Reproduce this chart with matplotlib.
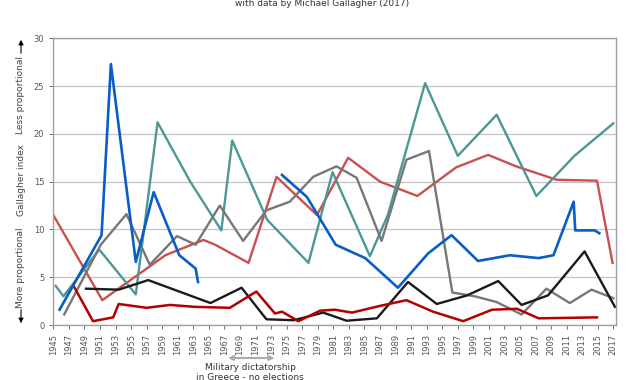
import matplotlib
matplotlib.use('Agg')
import matplotlib.pyplot as plt
import matplotlib.transforms as mtransforms
import numpy as np

# Gallagher index per election (x = position on the chart's year axis)
greece_a_x = [1945.8, 1951.2, 1952.4, 1955.6, 1957.9, 1961.2, 1963.3, 1963.6]
greece_a_y = [1.6, 9.4, 27.3, 6.6, 13.9, 7.3, 5.9, 4.5]
greece_b_x = [1974.4, 1977.6, 1981.3, 1985.1, 1989.3, 1993.2, 1996.2, 1999.6, 2003.7,
              2007.4, 2009.3, 2011.9, 2012.1, 2014.6, 2015.2]
greece_b_y = [15.7, 13.4, 8.4, 7.0, 3.9, 7.5, 9.4, 6.7, 7.3, 7.0, 7.3, 12.9, 9.9, 9.9, 9.6]

uk_x = [1945.0, 1951.3, 1959.4, 1964.3, 1965.8, 1970.1, 1973.7, 1978.9, 1982.9, 1987.0,
        1991.8, 1996.8, 2000.9, 2004.5, 2009.7, 2014.9, 2016.9]
uk_y = [11.5, 2.6, 7.3, 8.9, 8.4, 6.5, 15.5, 11.5, 17.5, 15.0, 13.5, 16.5, 17.8, 16.6,
        15.2, 15.1, 6.5]

france_x = [1945.3, 1946.3, 1950.9, 1955.6, 1958.4, 1962.6, 1966.6, 1968.0, 1972.5,
            1977.8, 1980.9, 1985.7, 1988.0, 1992.8, 1997.0, 2002.0, 2007.1, 2012.0, 2017.0]
france_y = [4.1, 3.0, 7.9, 3.2, 21.2, 15.0, 9.9, 19.3, 11.0, 6.5, 16.0, 7.2, 11.5, 25.3,
            17.7, 22.0, 13.5, 17.7, 21.1]

grey_x = [1946.4, 1951.1, 1954.4, 1957.4, 1960.9, 1963.3, 1966.4, 1969.4, 1972.4,
          1975.4, 1978.4, 1981.4, 1984.0, 1987.2, 1990.4, 1993.3, 1996.3, 1999.2,
          2002.0, 2005.2, 2008.4, 2011.4, 2014.2, 2017.0]
grey_y = [1.1, 8.4, 11.6, 6.3, 9.3, 8.4, 12.5, 8.8, 12.0, 12.9, 15.5, 16.6, 15.4, 8.8,
          17.3, 18.2, 3.4, 3.0, 2.4, 1.1, 3.8, 2.3, 3.7, 2.8]

germany_x = [1949.2, 1953.4, 1957.2, 1965.2, 1969.2, 1972.4, 1975.9, 1979.7, 1982.7,
             1986.6, 1990.6, 1994.3, 1998.2, 2002.2, 2005.2, 2008.6, 2013.3, 2017.2]
germany_y = [3.8, 3.7, 4.7, 2.3, 3.9, 0.6, 0.5, 1.3, 0.45, 0.7, 4.5, 2.2, 3.1, 4.6, 2.1,
             3.1, 7.7, 1.9]

darkred_x = [1947.6, 1950.1, 1952.7, 1953.4, 1957.0, 1960.0, 1963.2, 1967.7, 1971.1,
             1973.5, 1974.4, 1976.5, 1979.3, 1981.2, 1983.4, 1987.0, 1990.4, 1993.8,
             1997.7, 2001.4, 2004.6, 2007.4, 2014.9]
darkred_y = [4.1, 0.4, 0.8, 2.2, 1.8, 2.1, 1.9, 1.8, 3.5, 1.2, 1.4, 0.4, 1.5, 1.6, 1.3,
             2.0, 2.6, 1.4, 0.4, 1.6, 1.7, 0.7, 0.8]

year_ticks = list(range(1945, 2018, 2))

fig = plt.figure(figsize=(6.41, 3.80), dpi=100)
ax = fig.add_axes([0.0832, 0.1447, 0.8773, 0.7546])

ax.plot(uk_x, uk_y, color='#c9504f', lw=1.7)
ax.plot(france_x, france_y, color='#4b9895', lw=1.7)
ax.plot(grey_x, grey_y, color='#777777', lw=1.7)
ax.plot(germany_x, germany_y, color='#1a1a1a', lw=1.7)
ax.plot(darkred_x, darkred_y, color='#b40000', lw=1.8)
ax.plot(greece_a_x, greece_a_y, color='#0a5cc6', lw=1.9)
ax.plot(greece_b_x, greece_b_y, color='#0a5cc6', lw=1.9)

ax.set_xlim(1945, 2017.3)
ax.set_ylim(0, 30)
ax.set_yticks(range(0, 31, 5))
ax.set_xticks(year_ticks)
ax.set_xticklabels([str(y) for y in year_ticks], rotation=90)
ax.tick_params(axis='both', labelsize=6, colors='#555555', length=3, width=0.6)
ax.grid(axis='y', color='#c4c4c4', lw=0.9)
ax.set_axisbelow(True)
for s in ax.spines.values():
    s.set_color('#a0a0a0')
    s.set_linewidth(1.0)

# left side labels with arrows
fig.text(21 / 641, 1 - 95 / 380, 'Less proportional', rotation=90, ha='center', va='center',
         fontsize=6.5, color='#444444')
fig.text(21 / 641, 1 - 180 / 380, 'Gallagher index', rotation=90, ha='center', va='center',
         fontsize=6.5, color='#444444')
fig.text(21 / 641, 1 - 268 / 380, 'More proportional', rotation=90, ha='center', va='center',
         fontsize=6.5, color='#444444')
fig.patches.append(matplotlib.patches.FancyArrowPatch(
    (21 / 641, 1 - 56 / 380), (21 / 641, 1 - 37 / 380), transform=fig.transFigure,
    arrowstyle='-|>', mutation_scale=7, color='black', lw=0.8))
fig.patches.append(matplotlib.patches.FancyArrowPatch(
    (21 / 641, 1 - 307 / 380), (21 / 641, 1 - 326 / 380), transform=fig.transFigure,
    arrowstyle='-|>', mutation_scale=7, color='black', lw=0.8))

# military dictatorship span
trans = mtransforms.blended_transform_factory(ax.transData, fig.transFigure)
ax.annotate('', xy=(1967.1, 1 - 358 / 380), xytext=(1973.8, 1 - 358 / 380),
            xycoords=trans, textcoords=trans, annotation_clip=False,
            arrowprops=dict(arrowstyle='<|-|>', color='#aaaaaa', lw=1.5, mutation_scale=7))
fig.text(250 / 641, 1 - 367 / 380, 'Military dictatorship', ha='center', va='center',
         fontsize=6.5, color='#333333')
fig.text(250 / 641, 1 - 377 / 380, 'in Greece - no elections', ha='center', va='center',
         fontsize=6.5, color='#333333')

fig.text(322 / 641, 1 - 3 / 380, 'with data by Michael Gallagher (2017)', ha='center',
         va='center', fontsize=6.5, color='#333333')

fig.savefig('out.png', dpi=100)
